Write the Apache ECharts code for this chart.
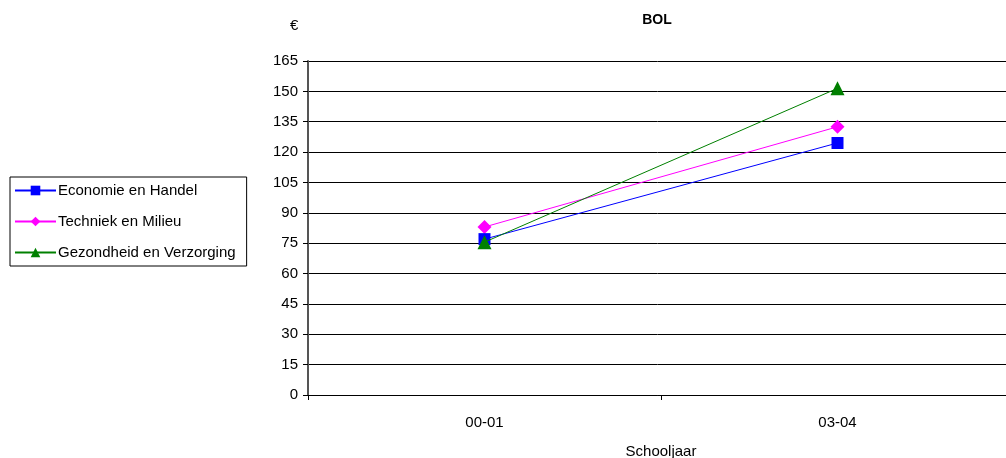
<!DOCTYPE html>
<html><head><meta charset="utf-8">
<script src="https://cdn.jsdelivr.net/npm/echarts@6/dist/echarts.min.js"></script>
<style>html,body{margin:0;padding:0;background:#fff}#c{width:1006px;height:458px}</style>
</head><body><div id="c"></div>
<script>
const categories = ['00-01', '03-04'];
const economie = [77, 124.5];
const techniek = [83, 132.5];
const gezondheid = [75.5, 151.5];
const seriesNames = ['Economie en Handel', 'Techniek en Milieu', 'Gezondheid en Verzorging'];
const yTicks = {min: 0, max: 165, interval: 15};

const chart = echarts.init(document.getElementById('c'), null, {renderer: 'canvas'});
const font = 'Arial, "Liberation Sans", sans-serif';
chart.setOption({
  animation: false,
  backgroundColor: '#fff',
  textStyle: {fontFamily: font},
  title: [
    {text: 'BOL', left: 652, top: 8, textAlign: 'center',
     textStyle: {fontSize: 14, fontWeight: 'bold', color: '#000', fontFamily: font}},
    {text: '€', left: 285, top: 13,
     textStyle: {fontSize: 15, fontWeight: 'normal', color: '#000', fontFamily: font}}
  ],
  legend: {
    orient: 'vertical', left: 10, top: 177,
    padding: [6, 11, 6, 4],
    borderColor: '#000', borderWidth: 1,
    itemWidth: 41, itemHeight: 12, itemGap: 16,
    textStyle: {fontSize: 15, color: '#000', fontFamily: font, padding: [0, 0, 0, -3]},
    data: seriesNames
  },
  grid: {left: 308, top: 61, width: 706, height: 334, containLabel: false, outerBoundsMode: 'none'},
  xAxis: {
    type: 'category', data: categories, boundaryGap: true,
    axisLine: {lineStyle: {color: '#000', width: 1}},
    axisTick: {show: true, length: 5, alignWithLabel: false, lineStyle: {color: '#000'}},
    axisLabel: {fontSize: 15, color: '#000', margin: 20, fontFamily: font},
    name: 'Schooljaar', nameLocation: 'middle', nameGap: 49,
    nameTextStyle: {fontSize: 15, color: '#000', fontFamily: font}
  },
  yAxis: {
    type: 'value', min: yTicks.min, max: yTicks.max, interval: yTicks.interval,
    axisLine: {show: true, lineStyle: {color: '#555', width: 2}},
    axisTick: {show: true, length: 5, lineStyle: {color: '#000'}},
    axisLabel: {fontSize: 15, color: '#000', margin: 10, fontFamily: font},
    splitLine: {show: true, lineStyle: {color: '#000', width: 1}}
  },
  series: [
    {name: seriesNames[0], type: 'line', data: economie, symbol: 'rect', symbolSize: 12,
     color: '#0000ff', lineStyle: {width: 1, color: '#0000ff'}, itemStyle: {color: '#0000ff'}, z: 3},
    {name: seriesNames[1], type: 'line', data: techniek, symbol: 'diamond', symbolSize: 14,
     color: '#ff00ff', lineStyle: {width: 1, color: '#ff00ff'}, itemStyle: {color: '#ff00ff'}, z: 2},
    {name: seriesNames[2], type: 'line', data: gezondheid, symbol: 'triangle', symbolSize: 14,
     color: '#008000', lineStyle: {width: 1, color: '#008000'}, itemStyle: {color: '#008000'}, z: 4}
  ]
});
</script></body></html>
